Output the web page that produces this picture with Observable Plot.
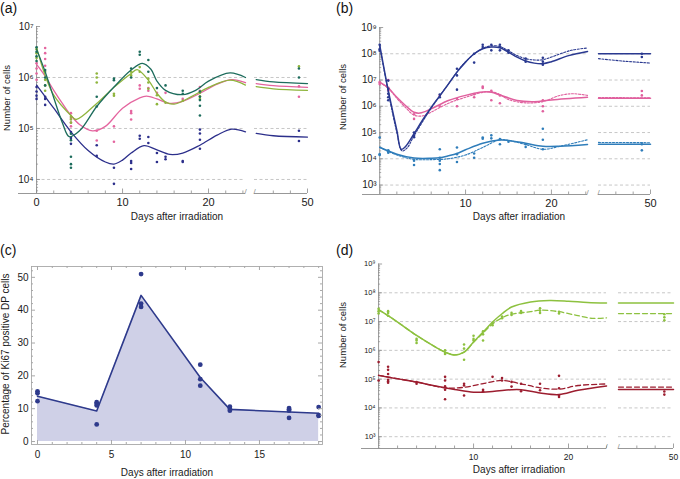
<!DOCTYPE html>
<html><head><meta charset="utf-8">
<script src="https://cdn.jsdelivr.net/npm/d3@7"></script>
<script src="https://cdn.jsdelivr.net/npm/@observablehq/plot@0.6"></script>
<style>
body{margin:0;background:#fff;font-family:"Liberation Sans",Arial,sans-serif;}
#root{position:relative;width:680px;height:479px;overflow:hidden;background:#fff;}
#root svg{position:absolute;background:transparent;overflow:visible;}
</style></head>
<body><div id="root"></div>
<script>
// ---------- Panel (a): points [day, cells] ----------
const aTealPts = [[0,3.9e6],[0,3.2e6],[0,2.6e6],[0,2.1e6],[1,1.4e6],[1,1.0e6],[1,7e5],[4,7.9e4],[4,5.9e4],[4,2.8e4],[4,2e4],[4,1.7e4],[7,4.2e5],[7,2.7e5],[9,9.5e5],[9,8.8e5],[11,1.5e6],[11,1.0e6],[12,3.2e6],[12,2.8e6],[13,2.2e6],[13,1.3e6],[14,6.2e5],[15,7e5],[17,5.5e5],[17,4.8e5],[19,5.3e5],[19,4.2e5],[19,3.6e5],[19,2.8e5],[19,1.8e5],[49,1.5e6],[49,1.0e6]];
const aGreenPts = [[0,3.6e6],[0,3.0e6],[0,2.4e6],[1,1.3e6],[1,9e5],[1,7e5],[1,5.5e5],[4,1.7e5],[4,1.5e5],[4,1.3e5],[7,1.2e6],[7,1.0e6],[7,8e5],[9,4.8e5],[9,4.4e5],[11,1.3e6],[11,1.1e6],[12,1.6e6],[12,1.3e6],[13,9.5e5],[13,8e5],[13,6e5],[14,4.5e5],[14,3e5],[15,3.2e5],[17,3.5e5],[19,5e5],[19,4.3e5],[19,3.8e5],[49,1.65e6]];
const aPinkPts = [[0,1.9e6],[0,1.5e6],[0,1.2e6],[0,9e5],[1,3.8e6],[1,3.0e6],[1,2.3e6],[1,1.7e6],[4,2e5],[4,1.6e5],[4,1.3e5],[4,1.1e5],[7,9e4],[7,5.8e4],[9,1.1e5],[9,5.5e4],[11,2.2e5],[11,2.0e5],[11,1.5e5],[12,7e5],[12,6e5],[13,6.2e5],[13,5.5e5],[14,5e5],[15,5e5],[17,3.8e5],[19,6.5e5],[19,5.5e5],[49,6.7e5],[49,4.2e5]];
const aNavyPts = [[0,6.5e5],[0,5.3e5],[0,4.4e5],[0,3.8e5],[1,4.2e5],[1,3.8e5],[1,2.9e5],[4,8.5e4],[4,6.5e4],[4,5e4],[7,4.7e4],[7,2.9e4],[9,1.7e4],[9,8.2e3],[11,2.3e4],[11,2.1e4],[11,1.6e4],[12,7.2e4],[12,6.3e4],[13,6.8e4],[13,5.2e4],[14,3.3e4],[14,2.2e4],[15,2.8e4],[15,2.5e4],[17,2.3e4],[17,2.2e4],[19,9.5e4],[19,8e4],[19,6e4],[19,4e4],[49,9e4],[49,5.7e4]];
// fitted curves (main part, days 0-24) and tail (days 44-50)
const aTealLine = [[0,3.6e6],[1,1.3e6],[2,4e5],[3,1.3e5],[3.8,6.9e4],[5,9e4],[7,2.7e5],[9,6.5e5],[11,1.4e6],[12.3,1.9e6],[13.3,1.45e6],[14,8.5e5],[15,5.6e5],[17,4.6e5],[18.5,5.6e5],[20,8.5e5],[22.5,1.23e6],[24.3,1.0e6]];
const aTealTail = [[44,9.1e5],[46,8.2e5],[50,7.6e5]];
const aGreenLine = [[0,3.9e6],[1,1.1e6],[2,4.5e5],[4,1.8e5],[4.6,1.5e5],[7,3.1e5],[9,6.4e5],[11,1.2e6],[11.7,1.43e6],[13,8.9e5],[14,4.9e5],[15,3.3e5],[16,3e5],[18,4.2e5],[20,6.4e5],[22.5,8.9e5],[24.3,7.1e5]];
const aGreenTail = [[44,6.6e5],[46,6.0e5],[50,5.6e5]];
const aPinkLine = [[0,1.8e6],[1,1.06e6],[2,5.6e5],[3,3.1e5],[4,1.8e5],[5,1.2e5],[6.5,9e4],[8,1.1e5],[10,2.5e5],[12,4e5],[12.8,4.3e5],[14,3.8e5],[15.5,3.1e5],[17,3.4e5],[19,4.9e5],[21,7.4e5],[22.7,9.1e5],[24.3,7.9e5]];
const aPinkTail = [[44,7.6e5],[46,6.9e5],[50,6.4e5]];
const aNavyLine = [[0,7.1e5],[1,4.2e5],[2,2.5e5],[4,8.6e4],[6,3.7e4],[8,2.2e4],[9,2e4],[10,2.4e4],[11,3.3e4],[12.5,4.6e4],[14,3.8e4],[15.5,3.1e4],[17,3.3e4],[19,4.7e4],[21,7.4e4],[22.7,9.7e4],[24.3,8.6e4]];
const aNavyTail = [[44,8e4],[46,7.2e4],[50,6.8e4]];

// ---------- Panel (b) ----------
const bNavyPts = [[0,2.2e8],[0,1.5e8],[0,1.3e8],[1,9.5e6],[1,4.6e6],[1,3e6],[1,2.2e6],[1,1.7e6],[4,1e5],[4,7.6e4],[4,6.6e4],[7,2.8e6],[7,2.2e6],[9,2.7e7],[9,1.5e7],[9,4.3e6],[11,1e8],[11,4.6e7],[12,2.2e8],[12,1.8e8],[13,2.2e8],[13,1.35e8],[14,2.2e8],[14,1.8e8],[14,1.35e8],[15,1.35e8],[15,1.1e8],[17,6.5e7],[17,5e7],[19,7e7],[19,5e7],[19,3.8e7],[49,1e8],[49,7.5e7]];
const bPinkPts = [[0,8.3e6],[0,7e6],[1,1e7],[1,5e6],[1,4e6],[4,5e5],[4,3.3e5],[7,2.6e6],[7,1e6],[9,1.9e6],[9,1e6],[11,2.9e6],[11,2.2e6],[12,5.6e6],[12,5e6],[13,3.9e6],[13,1.7e6],[14,2.6e6],[14,1.3e6],[19,1.7e6],[19,1e6],[19,6.5e5],[49,3.8e6],[49,2.6e6]];
const bBluePts = [[0,6.5e4],[0,1.5e4],[0,1.4e4],[1,2.1e4],[1,1.9e4],[1,1.7e4],[4,8.5e3],[4,5.8e3],[7,2.3e4],[7,1.1e4],[7,8.5e3],[7,6.3e3],[7,3.7e3],[9,2.7e4],[9,1.5e4],[9,7.5e3],[11,1.6e4],[11,1.1e4],[12,6.5e4],[12,5.8e4],[13,7.8e4],[13,6e4],[14,5.6e4],[14,3.6e4],[15,4.5e4],[17,3.6e4],[17,2.8e4],[19,1.4e5],[19,5.3e4],[19,2.3e4],[49,3.6e4],[49,2.1e4]];
const bNavyLine = [[0,2.2e8],[1,4e6],[2,1.2e5],[2.5,2.3e4],[3,2.9e4],[4,9e4],[5,3e5],[6,9e5],[7,2.5e6],[8,7e6],[9,2e7],[10,4.8e7],[11,1e8],[12,1.55e8],[13,1.8e8],[14,1.7e8],[15,1.15e8],[16,7.4e7],[17,5.3e7],[18,4.4e7],[19,4.2e7],[20,5e7],[22,8.5e7],[24.2,1.23e8]];
const bNavyTail = [[44,1e8],[50,1e8]];
const bNavyDotLine = [[0,2e8],[1,3.5e6],[2,1e5],[2.6,2e4],[3.2,2.6e4],[4,7.5e4],[6,8.5e5],[8,7e6],[10,5e7],[12,1.6e8],[13,2e8],[14,1.9e8],[15,1.3e8],[16,8.5e7],[17,6.5e7],[18,5.8e7],[19,5.9e7],[20,7.5e7],[22.3,1.35e8],[24.2,1.65e8]];
const bNavyDotTail = [[44,6.5e7],[47,5.2e7],[50,4.4e7]];
const bPinkLine = [[0,8.3e6],[1,5e6],[2,2.2e6],[3,1.07e6],[4,5.9e5],[4.7,5.5e5],[6,8e5],[8,1.66e6],[10,2.6e6],[12,3.5e6],[13,3.4e6],[14,2.7e6],[16,1.66e6],[18,1.5e6],[20,1.75e6],[24.2,2.2e6]];
const bPinkTail = [[44,2e6],[50,2e6]];
const bPinkDotLine = [[0,8e6],[1,4.8e6],[2,2e6],[3,9e5],[4,4.6e5],[5,4.3e5],[6,6e5],[8,1.3e6],[10,2.2e6],[12,3.4e6],[13,3.6e6],[14,2.8e6],[15,1.8e6],[17,1.35e6],[19,1.5e6],[21,2.6e6],[22.5,3e6],[24.2,2.6e6]];
const bPinkDotTail = [[44,2.15e6],[50,2.1e6]];
const bBlueLine = [[0,2.75e4],[2,1.5e4],[4,1.07e4],[6,1.05e4],[7,1.1e4],[8,1.3e4],[9,1.6e4],[10,2.2e4],[12,3.9e4],[14,5.2e4],[15,5e4],[17,3.9e4],[19,3e4],[21,3e4],[24.2,3.5e4]];
const bBlueTail = [[44,3.6e4],[50,3.6e4]];
const bBlueDotLine = [[0,2.7e4],[2,1.4e4],[4,9.5e3],[6,9.3e3],[8,1e4],[10,1.4e4],[12,2.7e4],[14,5.4e4],[15,5e4],[17,3.5e4],[19,2.3e4],[21,3e4],[24.2,5.3e4]];
const bBlueDotTail = [[44,4.2e4],[50,4.1e4]];

// ---------- Panel (c): Ki67 percentage ----------
const cDays = [0,4,7,11,13,17,19];
const cMean = [13.8,9.3,44.5,19.5,9.8,9.0,8.6];
const cPtDays = [0,0,0,4,4,4,4,7,7,7,11,11,11,13,13,13,17,17,17,17,19,19,19];
const cPtVals = [15.3,14.7,12.3,12.0,11.5,11.0,5.2,51,42,41,23.4,19,17,10.6,10.0,9.4,10.2,9.8,9.4,7.2,10.5,8.0,7.8];

// ---------- Panel (d) ----------
const dGreenPts = [[0,2.8e7],[0,2.3e7],[0,1.9e7],[1,2.3e7],[1,2e7],[1,1.6e7],[4,2.5e6],[4,2.2e6],[4,1.8e6],[7,1e6],[7,8.2e5],[7,7.5e5],[9,1.6e6],[9,1.15e6],[9,4.7e5],[10,3.2e6],[10,2.5e6],[10,2.2e6],[11,4.6e6],[11,3.6e6],[11,2.2e6],[12,9e6],[12,7.5e6],[13,1.5e7],[13,1.3e7],[14,2e7],[14,1.7e7],[15,2.3e7],[15,2e7],[17,2.9e7],[17,2.4e7],[17,2e7],[19,2.2e7],[19,1.9e7],[49,1.8e7],[49,1.4e7],[49,1.1e7]];
const dRedPts = [[0,3.9e5],[0,9e4],[1,2.7e5],[1,2.1e5],[1,1.5e5],[1,9.5e4],[1,8.5e4],[1,7.5e4],[4,7.9e4],[4,6.9e4],[7,1.2e5],[7,9e4],[7,5.6e4],[7,4.3e4],[7,2e4],[9,6.9e4],[9,6e4],[9,2.7e4],[11,4.3e4],[11,3.8e4],[12,1.2e5],[13,1.1e5],[13,9e4],[14,8e4],[14,5.5e4],[15,6.9e4],[15,3.8e4],[17,6.9e4],[17,4.1e4],[19,1.3e5],[19,4.8e4],[19,2.7e4],[19,2.4e4],[49,3.7e4],[49,2.9e4]];
const dGreenLine = [[0,2.6e7],[1,1.6e7],[2,9.6e6],[4,3.3e6],[6,1.3e6],[7,8.7e5],[8,6.9e5],[9,8.7e5],[10,1.95e6],[11,4.3e6],[12,9.6e6],[13,1.87e7],[14,3.2e7],[16,4.8e7],[18,5.4e7],[20,5.1e7],[22,4.6e7],[24,4.4e7]];
const dGreenTail = [[44,4.4e7],[50,4.4e7]];
const dGreenDashLine = [[0,2.6e7],[1,1.6e7],[2,9.6e6],[4,3.3e6],[6,1.3e6],[7,8.7e5],[8,7e5],[9,8.7e5],[10,1.9e6],[11,4e6],[12,8.3e6],[13,1.35e7],[14,1.8e7],[16,2.2e7],[17,2.5e7],[19,2.2e7],[21,1.6e7],[22.5,1.3e7],[24,1.35e7]];
const dGreenDashTail = [[44,1.9e7],[50,1.9e7]];
const dRedLine = [[0,1.35e5],[2,1.02e5],[4,7.9e4],[6,5.8e4],[8,4.4e4],[10,3.5e4],[12,3.7e4],[14,4.3e4],[15,4.3e4],[17,3.3e4],[19,2.9e4],[21,4.1e4],[24,5.8e4]];
const dRedTail = [[44,4.4e4],[50,4.4e4]];
const dRedDashLine = [[0,1.35e5],[4,7.9e4],[7,5e4],[9,5.2e4],[11,7e4],[13,9e4],[15,6.9e4],[17,5e4],[19,4.5e4],[21,6e4],[24,6.8e4]];
const dRedDashTail = [[44,5.3e4],[50,5.3e4]];

// ---------- tick labels ----------
const aXTicks = [0,10,20,50];
const bXTicks = [10,20,50];
const dXTicks = [10,20,50];
const aDecades = [1e4,1e5,1e6,1e7];
const bDecades = [1e3,1e4,1e5,1e6,1e7,1e8,1e9];
const cXTicks = [0,5,10,15];
const cYTicks = [0,10,20,30,40,50];

// ---------- helpers ----------
const root = document.getElementById("root");
const SUP = {"0":"⁰","1":"¹","2":"²","3":"³","4":"⁴","5":"⁵","6":"⁶","7":"⁷","8":"⁸","9":"⁹"};
const pow10 = v => "10" + String(Math.round(Math.log10(v))).split("").map(c => SUP[c]).join("");
const AX = "#8c8c8c";
const toObj = (arr) => arr.map(([d, v]) => ({d, v}));
const lineData = (main, tail) => [...main.map(([d, v]) => ({d, v, seg: 0})), ...tail.map(([d, v]) => ({d, v, seg: 1}))];

function place(svg, left, top) {
  svg.style.left = left + "px";
  svg.style.top = top + "px";
  root.appendChild(svg);
}
function text(t, x, y, size, rot) {
  const el = document.createElement("div");
  el.textContent = t;
  el.style.cssText = `position:absolute;left:${x}px;top:${y}px;font-size:${size}px;line-height:1;white-space:nowrap;color:#1a1a1a;transform:translate(-50%,-50%)${rot ? " rotate(-90deg)" : ""};`;
  root.appendChild(el);
}
function letter(t, x, y) {
  const el = document.createElement("div");
  el.textContent = t;
  el.style.cssText = `position:absolute;left:${x}px;top:${y}px;font-size:14px;line-height:1;color:#111;`;
  root.appendChild(el);
}

function logPanel(cfg) {
  const {w, h, xDomain, xRange, yDomain, yRange, decades, gridDecades, xLabels, xMinor, xMajor, yFont, xFont, series, dotR} = cfg;
  // broken axis: piecewise day -> position, applied as the x scale's transform
  const broken = d3.scaleLinear(xDomain, xRange);
  const mL = broken(0), mR = w - xRange[3], mT = yRange[1], mB = h - yRange[0];
  const frameW = xRange[3] - mL, frameH = yRange[0] - yRange[1];
  const gridSegs = [[0, xDomain[1]], [xDomain[2], xDomain[3]]];
  const grid = gridDecades.flatMap(v => gridSegs.map(s => ({v, x1: s[0], x2: s[1]})));
  const axisSegs = [{x1: xDomain[0], x2: xDomain[1]}, {x1: xDomain[2], x2: xDomain[3]}];
  const minorY = [];
  for (let e = Math.floor(Math.log10(yDomain[0])); e < Math.log10(yDomain[1]); e++)
    for (let k = 2; k < 10; k++) { const v = k * 10 ** e; if (v >= yDomain[0] && v <= yDomain[1]) minorY.push(v); }
  const marks = [
    Plot.ruleY(grid, {y: "v", x1: "x1", x2: "x2", stroke: "#b9b9b9", strokeWidth: 0.8, strokeDasharray: "3,2.5"}),
    Plot.ruleY(axisSegs, {y: yDomain[0], x1: "x1", x2: "x2", stroke: AX, strokeWidth: 0.9}),
    Plot.ruleX([0], {x: d => d, y1: yDomain[0], y2: yDomain[1], stroke: AX, strokeWidth: 0.9}),
    Plot.tickX(xMinor, {x: d => d, insetTop: frameH - 2.5, stroke: AX, strokeWidth: 0.8}),
    Plot.tickX(xMajor, {x: d => d, insetTop: frameH - 4.5, stroke: AX, strokeWidth: 0.8}),
    Plot.tickY(decades, {y: d => d, insetRight: frameW - 4, stroke: AX, strokeWidth: 0.8}),
    Plot.tickY(minorY, {y: d => d, insetRight: frameW - 2, stroke: AX, strokeWidth: 0.7}),
    Plot.text([xDomain[1], xDomain[2]], {x: d => d, text: () => "/", frameAnchor: "bottom", fontSize: 8, fill: AX}),
    Plot.axisY(decades, {tickFormat: pow10, tickSize: 0, tickPadding: 3, fontSize: yFont, label: null}),
    Plot.axisX(xLabels, {tickFormat: d => String(d), tickSize: 0, tickPadding: 5, fontSize: xFont, label: null})
  ];
  for (const s of series) {
    for (const ln of s.lines) {
      marks.push(Plot.line(lineData(ln.main, ln.tail), {x: "d", y: "v", z: "seg", stroke: s.color, strokeWidth: ln.width || 1.3, strokeDasharray: ln.dash || null, curve: "catmull-rom"}));
    }
    marks.push(Plot.dot(toObj(s.pts), {x: "d", y: "v", r: dotR, fill: s.color, stroke: "none"}));
  }
  return Plot.plot({
    width: w, height: h, marginLeft: mL, marginRight: mR, marginTop: mT, marginBottom: mB,
    style: {fontFamily: '"Liberation Sans", Arial, sans-serif', color: "#1a1a1a", background: "transparent", overflow: "visible"},
    x: {type: "linear", transform: d => broken(d), domain: [xRange[0], xRange[3]], range: [xRange[0], xRange[3]], label: null},
    y: {type: "log", domain: yDomain, range: yRange, label: null},
    marks
  });
}

const ev = d3.range(2, 25, 2);

// ----- (a) -----
place(logPanel({
  w: 340, h: 240,
  xDomain: [-2.1, 24.3, 43.8, 50], xRange: [18, 245, 254, 307],
  yDomain: [10 ** 3.725, 1e7], yRange: [193, 26],
  decades: aDecades, gridDecades: [1e4, 1e5, 1e6],
  xLabels: aXTicks, xMinor: [...ev.filter(d => d % 10), 46, 48], xMajor: [0, 10, 20, 50],
  yFont: 10, xFont: 11, dotR: 1.3,
  series: [
    {color: "#2c2f8b", pts: aNavyPts, lines: [{main: aNavyLine, tail: aNavyTail}]},
    {color: "#e4659f", pts: aPinkPts, lines: [{main: aPinkLine, tail: aPinkTail}]},
    {color: "#8fb53d", pts: aGreenPts, lines: [{main: aGreenLine, tail: aGreenTail}]},
    {color: "#1d6c5c", pts: aTealPts, lines: [{main: aTealLine, tail: aTealTail}]}
  ]
}), 0, 0);

// ----- (b) -----
place(logPanel({
  w: 340, h: 240,
  xDomain: [-2, 24.2, 44, 50], xRange: [22, 247, 258, 310],
  yDomain: [10 ** 2.64, 1e9], yRange: [194, 27],
  decades: bDecades, gridDecades: [1e3, 1e4, 1e5, 1e6, 1e7, 1e8],
  xLabels: bXTicks, xMinor: [...ev.filter(d => d % 10), 46, 48], xMajor: [10, 20, 50],
  yFont: 10, xFont: 11, dotR: 1.3,
  series: [
    {color: "#2f7dba", pts: bBluePts, lines: [{main: bBlueLine, tail: bBlueTail, width: 1.5}, {main: bBlueDotLine, tail: bBlueDotTail, dash: "2,1.5", width: 1.1}]},
    {color: "#e0609e", pts: bPinkPts, lines: [{main: bPinkLine, tail: bPinkTail, width: 1.5}, {main: bPinkDotLine, tail: bPinkDotTail, dash: "2,1.5", width: 1.1}]},
    {color: "#2a3990", pts: bNavyPts, lines: [{main: bNavyLine, tail: bNavyTail, width: 1.5}, {main: bNavyDotLine, tail: bNavyDotTail, dash: "2,1.5", width: 1.1}]}
  ]
}), 340, 0);

// ----- (d) -----
place(logPanel({
  w: 340, h: 239,
  xDomain: [-1.8, 24, 44, 50], xRange: [21, 266, 278, 333],
  yDomain: [10 ** 2.59, 1e9], yRange: [208, 23.5],
  decades: bDecades, gridDecades: [1e3, 1e4, 1e5, 1e6, 1e7, 1e8],
  xLabels: dXTicks, xMinor: [...ev.filter(d => d % 10), 46, 48], xMajor: [10, 20, 50],
  yFont: 7.5, xFont: 8.5, dotR: 1.3,
  series: [
    {color: "#9c1d2f", pts: dRedPts, lines: [{main: dRedLine, tail: dRedTail, width: 1.5}, {main: dRedDashLine, tail: dRedDashTail, dash: "5,3", width: 1.3}]},
    {color: "#8dc13f", pts: dGreenPts, lines: [{main: dGreenLine, tail: dGreenTail, width: 1.5}, {main: dGreenDashLine, tail: dGreenDashTail, dash: "5,3", width: 1.3}]}
  ]
}), 340, 240);

// ----- (c) -----
(function () {
  const line = cDays.map((d, i) => ({d, v: cMean[i]}));
  const pts = cPtDays.map((d, i) => ({d, v: cPtVals[i]}));
  const xMinor = d3.range(0, 20).filter(d => d % 5);
  const yMinor = d3.range(2, 53, 2).filter(d => d % 10);
  const fH = 204 - 26, fW = 322 - 31;
  const svg = Plot.plot({
    width: 340, height: 239, marginLeft: 31, marginRight: 18, marginTop: 26, marginBottom: 35,
    style: {fontFamily: '"Liberation Sans", Arial, sans-serif', color: "#1a1a1a", background: "transparent", overflow: "visible"},
    x: {domain: [-0.405, 19.26], range: [31, 322], label: null},
    y: {domain: [-0.9, 53.3], range: [204, 26], label: null},
    marks: [
      Plot.areaY(line, {x: "d", y: "v", fill: "#cfd0e7"}),
      Plot.line(line, {x: "d", y: "v", stroke: "#2e3a8c", strokeWidth: 1.6}),
      Plot.dot(pts, {x: "d", y: "v", r: 2.4, fill: "#2e3a8c", stroke: "none"}),
      Plot.frame({stroke: "#a8a8a8", strokeWidth: 0.9}),
      Plot.tickX(cXTicks, {x: d => d, insetTop: fH - 4, stroke: "#a8a8a8"}),
      Plot.tickX(cXTicks, {x: d => d, insetBottom: fH - 4, stroke: "#a8a8a8"}),
      Plot.tickX(xMinor, {x: d => d, insetTop: fH - 2, stroke: "#a8a8a8"}),
      Plot.tickX(xMinor, {x: d => d, insetBottom: fH - 2, stroke: "#a8a8a8"}),
      Plot.tickY(cYTicks, {y: d => d, insetRight: fW - 4, stroke: "#a8a8a8"}),
      Plot.tickY(cYTicks, {y: d => d, insetLeft: fW - 4, stroke: "#a8a8a8"}),
      Plot.tickY(yMinor, {y: d => d, insetRight: fW - 2, stroke: "#a8a8a8"}),
      Plot.tickY(yMinor, {y: d => d, insetLeft: fW - 2, stroke: "#a8a8a8"}),
      Plot.axisY(cYTicks, {tickSize: 0, tickPadding: 3, fontSize: 10, label: null}),
      Plot.axisX(cXTicks, {tickSize: 0, tickPadding: 6, fontSize: 10, label: null})
    ]
  });
  place(svg, 0, 240);
})();

// ----- titles & panel letters -----
letter("(a)", 0, 1);
letter("(b)", 336, 1);
letter("(c)", 0, 243);
letter("(d)", 336, 243);
text("Days after irradiation", 177, 217, 10);
text("Days after irradiation", 519, 217, 10);
text("Days after irradiation", 167, 473, 10);
text("Days after irradiation", 519, 470, 10);
text("Number of cells", 7, 98, 9.5, true);
text("Number of cells", 343, 97, 9.5, true);
text("Percentage of Ki67 positive DP cells", 6, 354, 10, true);
text("Number of cells", 343, 335, 9.5, true);
</script>
</body></html>
